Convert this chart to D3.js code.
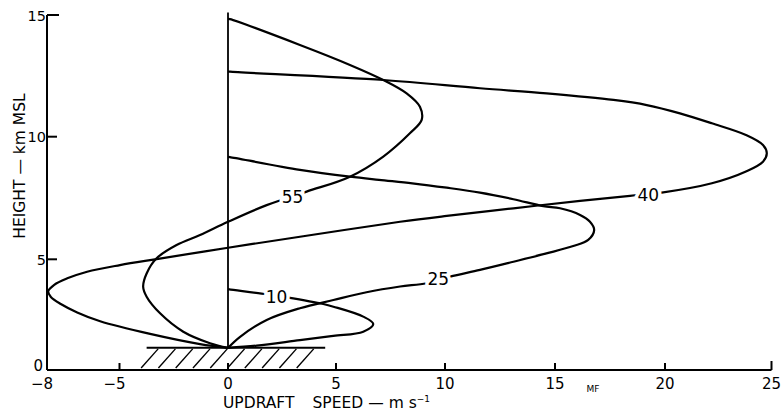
<!DOCTYPE html>
<html>
<head>
<meta charset="utf-8">
<script src="https://cdn.jsdelivr.net/npm/d3@7"></script>
<style>
  html, body { margin: 0; padding: 0; background: #fff; }
  svg { display: block; }
  text { font-family: "DejaVu Sans", "Liberation Sans", sans-serif; fill: #000; }
</style>
</head>
<body>
<svg id="chart" width="782" height="412"></svg>
<script>
// ---- Data (updraft speed in m/s vs height in km MSL) ----
const curveNames = ["10", "25", "40", "55"];

const speed10  = [0, 1.33, 3.33, 4.88, 6.25, 6.71, 6.25, 4.88, 4.41, 2.72, 1.79, 0.06, 0];
const height10 = [1.0, 1.10, 1.35, 1.54, 1.73, 2.08, 2.41, 2.86, 2.98, 3.28, 3.42, 3.64, 3.65];

const speed25  = [0, 0.56, 1.79, 3.33, 4.88, 6.40, 7.94, 9.16, 10.23, 11.59, 13.11, 14.61, 15.83, 16.51, 16.78,
                  16.59, 16.14, 15.23, 14.47, 13.11, 11.59, 10.08, 8.50, 6.97, 5.64, 3.33, 0.09, 0];
const height25 = [1.0, 1.50, 2.26, 2.79, 3.16, 3.51, 3.77, 3.92, 4.22, 4.52, 4.89, 5.24, 5.54, 5.79, 6.19,
                  6.53, 6.81, 7.08, 7.17, 7.45, 7.72, 7.92, 8.10, 8.24, 8.37, 8.65, 9.17, 9.18];

const speed40  = [0, -1.29, -3.59, -5.80, -6.75, -7.43, -7.84, -7.95, -7.70, -7.16, -6.34, -4.98, -3.29, 0,
                  3.33, 7.94, 10.08, 13.11, 16.14, 18.41, 19.85, 22.2, 23.8, 24.6, 24.78, 24.6, 23.8, 22.2, 20.7,
                  19.17, 17.66, 14.62, 11.59, 7.17, 0.09, 0];
const height40 = [1.0, 1.17, 1.63, 2.20, 2.60, 2.98, 3.30, 3.55, 3.85, 4.14, 4.44, 4.74, 5.01, 5.47,
                  5.92, 6.53, 6.77, 7.08, 7.38, 7.59, 7.72, 8.10, 8.58, 8.98, 9.32, 9.66, 10.07, 10.55, 10.96,
                  11.30, 11.51, 11.78, 11.99, 12.33, 12.67, 12.68];

const speed55  = [0, -0.83, -2.06, -3.13, -3.75, -3.91, -3.75, -3.29, -2.37, -1.29, 0, 1.79, 3.64, 5.64, 7.17,
                  8.39, 8.93, 8.85, 8.24, 7.17, 5.64, 3.33, 0.09, 0];
const height55 = [1.0, 1.21, 1.73, 2.56, 3.31, 3.76, 4.36, 5.04, 5.58, 5.99, 6.53, 7.21, 7.76, 8.37, 9.19,
                  10.14, 10.69, 11.23, 11.78, 12.33, 12.95, 13.77, 14.83, 14.84];

const labelSpeed  = [2.25, 9.69, 19.24, 2.99];
const labelHeight = [3.31, 4.10, 7.62, 7.55];

const xTicks = [-8, -5, 0, 5, 10, 15, 20, 25];
const yTicks = [0, 5, 10, 15];
const groundHeight = 1.0;
const groundExtent = [-3.75, 4.5];
const zeroLineTop = 15.1;

const xTitle = ["UPDRAFT", "SPEED", "\u2014 m s", "\u22121"];
const yTitle = "HEIGHT \u2014 km MSL";

// ---- Scales ----
const x = d3.scaleLinear()
  .domain([-8, -5, 0, 5, 10, 15, 20, 25])
  .range([47, 119.5, 228, 336, 445, 555, 665, 771.5]);
const y = d3.scaleLinear()
  .domain([0, 5, 10, 15])
  .range([370, 259.3, 136.7, 15]);

const svg = d3.select("#chart");

// ---- Axes frame ----
const axisG = svg.append("g").attr("stroke", "#000").attr("stroke-width", 2).attr("fill", "none");
axisG.append("line").attr("x1", x(-8)).attr("x2", x(-8)).attr("y1", y(15)).attr("y2", y(0));
axisG.append("line").attr("x1", x(-8)).attr("x2", x(25)).attr("y1", y(0)).attr("y2", y(0));
yTicks.filter(d => d > 0).forEach(d => {
  axisG.append("line").attr("x1", x(-8)).attr("x2", x(-8) + (d === 15 ? 12 : 10))
    .attr("y1", y(d)).attr("y2", y(d));
});
xTicks.filter(d => d !== -8).forEach(d => {
  axisG.append("line").attr("x1", x(d)).attr("x2", x(d))
    .attr("y1", y(0)).attr("y2", y(0) - (d === 25 ? 9 : 7));
});

// zero line
axisG.append("line").attr("x1", x(0)).attr("x2", x(0))
  .attr("y1", y(zeroLineTop)).attr("y2", y(groundHeight)).attr("stroke-width", 1.8);

// ground with hatching
const gy = y(groundHeight);
const gx0 = x(groundExtent[0]), gx1 = x(groundExtent[1]);
axisG.append("line").attr("x1", gx0).attr("x2", gx1).attr("y1", gy).attr("y2", gy).attr("stroke-width", 2);
const hatch = svg.append("g").attr("stroke", "#000").attr("stroke-width", 1.4);
const nHatch = 10, hStart = gx0 + 11.5, hEnd = gx1 - 11.5;
for (let i = 0; i < nHatch; i++) {
  const tx = hStart + i * (hEnd - hStart) / (nHatch - 1);
  hatch.append("line").attr("x1", tx).attr("y1", gy + 1).attr("x2", tx - 17).attr("y2", y(0) - 2);
}

// ---- Curves ----
const series = [
  [speed10, height10],
  [speed25, height25],
  [speed40, height40],
  [speed55, height55]
];
const line = d3.line()
  .x(d => x(d[0]))
  .y(d => y(d[1]))
  .curve(d3.curveCatmullRom.alpha(0.5));

svg.append("g").selectAll("path")
  .data(series.map(([s, h]) => s.map((v, i) => [v, h[i]])))
  .join("path")
  .attr("d", line)
  .attr("fill", "none")
  .attr("stroke", "#000")
  .attr("stroke-width", 2.2)
  .attr("stroke-linejoin", "round");

// ---- Curve labels ----
svg.append("g").selectAll("text")
  .data(curveNames)
  .join("text")
  .attr("x", (d, i) => x(labelSpeed[i]))
  .attr("y", (d, i) => y(labelHeight[i]))
  .attr("dy", "0.36em")
  .attr("text-anchor", "middle")
  .attr("font-size", 17)
  .attr("stroke", "#fff")
  .attr("stroke-width", 7)
  .attr("paint-order", "stroke")
  .text(d => d);

// ---- Tick labels ----
svg.append("g").selectAll("text")
  .data(xTicks)
  .join("text")
  .attr("x", d => x(d) + (d < 0 ? -5 : 0))
  .attr("y", 389)
  .attr("text-anchor", "middle")
  .attr("font-size", 15)
  .text(d => d < 0 ? "\u2212" + Math.abs(d) : d);

svg.append("g").selectAll("text")
  .data(yTicks)
  .join("text")
  .attr("x", d => d === 0 ? 43 : 46)
  .attr("y", d => d === 0 ? 371 : y(d) + 5.5)
  .attr("text-anchor", "end")
  .attr("font-size", d => d === 0 ? 15 : 14.5)
  .text(d => d);

// ---- Axis titles ----
const xt = svg.append("text").attr("x", 223).attr("y", 408).attr("font-size", 15.5);
xt.append("tspan").text(xTitle[0]);
xt.append("tspan").attr("dx", 18).text(xTitle[1]);
xt.append("tspan").attr("dx", 5).text(xTitle[2]);
xt.append("tspan").attr("dy", -6).attr("font-size", 9).text(xTitle[3]);

svg.append("text")
  .attr("transform", "translate(24.5,166) rotate(-90)")
  .attr("text-anchor", "middle")
  .attr("font-size", 15.5)
  .text(yTitle);

// draftsman's mark
svg.append("text").attr("x", 593).attr("y", 392).attr("text-anchor", "middle")
  .attr("font-size", 9).text("MF");
</script>
</body>
</html>
